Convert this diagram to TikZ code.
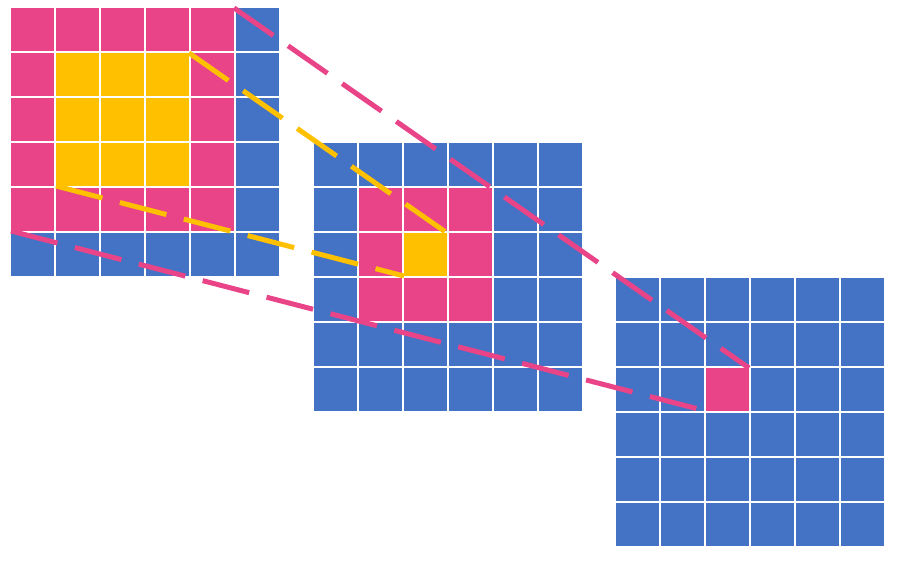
\documentclass[tikz,border=0pt]{standalone}
\definecolor{pk}{RGB}{234,68,137}
\definecolor{yl}{RGB}{255,192,0}
\definecolor{bl}{RGB}{68,114,196}
\begin{document}
\begin{tikzpicture}[x=1pt,y=-1pt,
  link/.style={line width=5pt, dash pattern=on 48pt off 18pt, draw=#1}]
\useasboundingbox (0,0) rectangle (901,564);
% grids: origin of each
\foreach \ox/\oy in {11/8, 314/143, 616/278}{
  \foreach \i in {0,...,5}{
    \foreach \j in {0,...,5}{
      \fill[bl] ({\ox+45*\i},{\oy+45*\j}) rectangle ++(43,43);
    }
  }
}
% grid 1
\foreach \i in {0,...,4}{\foreach \j in {0,...,4}{
  \fill[pk] ({11+45*\i},{8+45*\j}) rectangle ++(43,43);}}
\foreach \i in {1,...,3}{\foreach \j in {1,...,3}{
  \fill[yl] ({11+45*\i},{8+45*\j}) rectangle ++(43,43);}}
% grid 2
\foreach \i in {1,...,3}{\foreach \j in {1,...,3}{
  \fill[pk] ({314+45*\i},{143+45*\j}) rectangle ++(43,43);}}
\fill[yl] (404,233) rectangle ++(43,43);
% grid 3
\fill[pk] (706,368) rectangle ++(43,43);
% corner coordinates
\coordinate (a1) at (234,8);
\coordinate (a2) at (749,368);
\coordinate (b1) at (11,231);
\coordinate (b2) at (706,411);
\coordinate (c1) at (189,53);
\coordinate (c2) at (447,233);
\coordinate (d1) at (56,186);
\coordinate (d2) at (404,276);
\draw[link=pk] (a1) -- (a2);
\draw[link=pk] (b1) -- (b2);
\draw[link=yl] (c1) -- (c2);
\draw[link=yl] (d1) -- (d2);
\end{tikzpicture}
\end{document}
